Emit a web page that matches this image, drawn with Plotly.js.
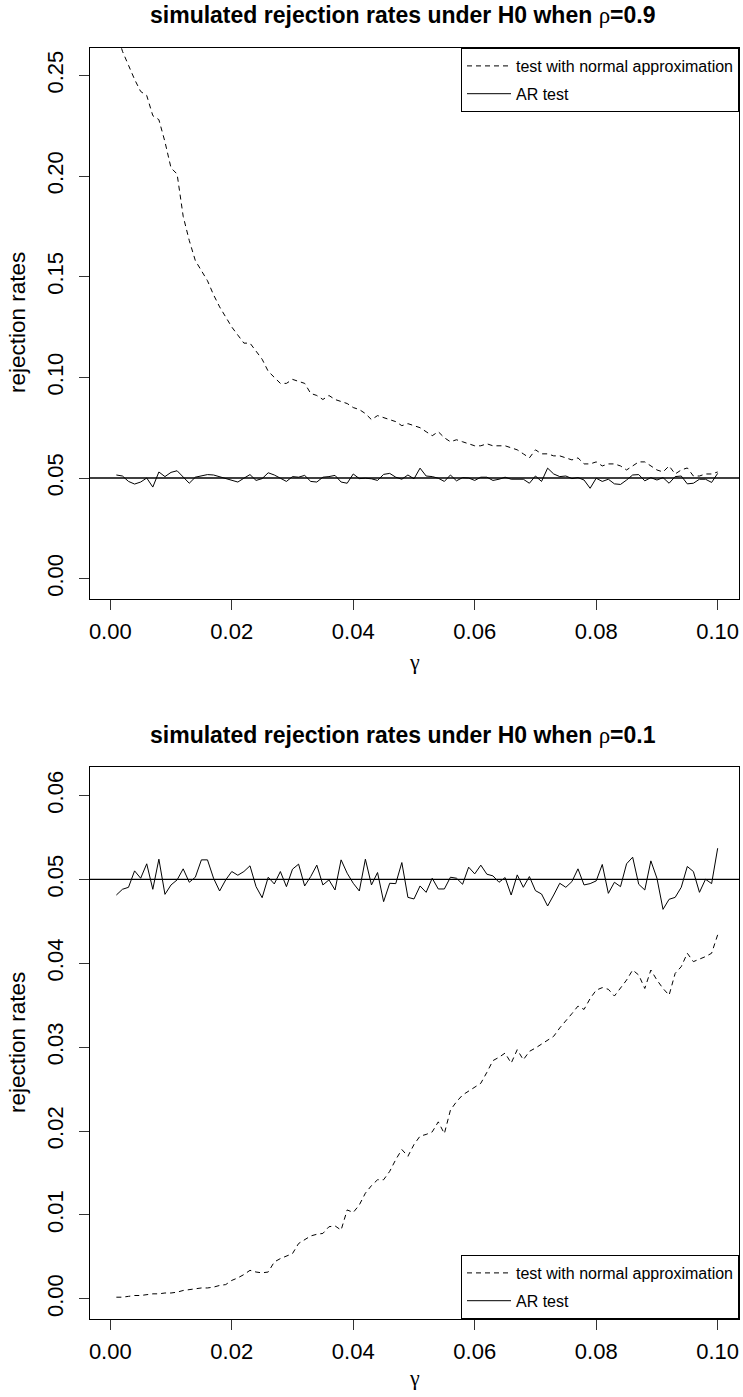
<!DOCTYPE html>
<html>
<head>
<meta charset="utf-8">
<script src="https://cdn.plot.ly/plotly-3.0.1.min.js"></script>
<style>html,body{margin:0;padding:0;background:#fff;}#chart{width:743px;height:1397px;}</style>
</head>
<body>
<div id="chart"></div>
<script>
// gamma grid
const gamma = [0.001,0.002,0.003,0.004,0.005,0.006,0.007,0.008,0.009,0.010,
0.011,0.012,0.013,0.014,0.015,0.016,0.017,0.018,0.019,0.020,
0.021,0.022,0.023,0.024,0.025,0.026,0.027,0.028,0.029,0.030,
0.031,0.032,0.033,0.034,0.035,0.036,0.037,0.038,0.039,0.040,
0.041,0.042,0.043,0.044,0.045,0.046,0.047,0.048,0.049,0.050,
0.051,0.052,0.053,0.054,0.055,0.056,0.057,0.058,0.059,0.060,
0.061,0.062,0.063,0.064,0.065,0.066,0.067,0.068,0.069,0.070,
0.071,0.072,0.073,0.074,0.075,0.076,0.077,0.078,0.079,0.080,
0.081,0.082,0.083,0.084,0.085,0.086,0.087,0.088,0.089,0.090,
0.091,0.092,0.093,0.094,0.095,0.096,0.097,0.098,0.099,0.100];

// rho = 0.9, test with normal approximation
const normalRho09 = [0.272,0.262,0.255,0.248,0.242,0.240,0.230,0.228,0.217,0.204,
0.201,0.180,0.168,0.158,0.153,0.148,0.141,0.135,0.130,0.125,
0.121,0.117,0.117,0.113,0.109,0.103,0.100,0.097,0.097,0.099,
0.098,0.097,0.092,0.091,0.089,0.091,0.089,0.088,0.087,0.085,
0.084,0.082,0.079,0.081,0.080,0.079,0.078,0.076,0.077,0.076,
0.075,0.073,0.071,0.073,0.070,0.068,0.069,0.068,0.067,0.066,
0.066,0.067,0.066,0.066,0.066,0.065,0.064,0.062,0.060,0.064,
0.062,0.062,0.061,0.061,0.060,0.059,0.060,0.057,0.057,0.058,
0.056,0.057,0.057,0.056,0.054,0.056,0.058,0.058,0.056,0.054,
0.053,0.056,0.052,0.054,0.055,0.051,0.051,0.052,0.052,0.053];

// rho = 0.9, AR test
const arRho09 = [0.0515,0.0510,0.0483,0.0470,0.0480,0.0500,0.0455,0.0530,0.0507,0.0528,
0.0536,0.0507,0.0474,0.0504,0.0512,0.0517,0.0515,0.0507,0.0497,0.0490,
0.0480,0.0499,0.0517,0.0488,0.0497,0.0526,0.0515,0.0499,0.0483,0.0507,
0.0504,0.0513,0.0483,0.0480,0.0504,0.0507,0.0513,0.0480,0.0474,0.0520,
0.0497,0.0499,0.0496,0.0488,0.0518,0.0523,0.0504,0.0494,0.0515,0.0496,
0.0549,0.0510,0.0507,0.0499,0.0483,0.0515,0.0486,0.0502,0.0500,0.0488,
0.0504,0.0504,0.0488,0.0494,0.0504,0.0494,0.0494,0.0494,0.0474,0.0510,
0.0483,0.0549,0.0520,0.0507,0.0510,0.0497,0.0502,0.0490,0.0449,0.0499,
0.0483,0.0494,0.0471,0.0468,0.0490,0.0515,0.0517,0.0486,0.0502,0.0490,
0.0502,0.0474,0.0507,0.0510,0.0471,0.0474,0.0494,0.0494,0.0478,0.0523];

// rho = 0.1, test with normal approximation
const normalRho01 = [0.0002,0.0002,0.0003,0.0004,0.0004,0.0005,0.0006,0.0006,0.0007,0.0007,
0.0008,0.0010,0.0011,0.0012,0.0013,0.0013,0.0014,0.0016,0.0017,0.0022,
0.0025,0.0029,0.0034,0.0032,0.0031,0.0032,0.0044,0.0048,0.0051,0.0054,
0.0066,0.0070,0.0075,0.0077,0.0078,0.0086,0.0087,0.0082,0.0106,0.0103,
0.0112,0.0126,0.0135,0.0142,0.0142,0.0152,0.0166,0.0178,0.0170,0.0184,
0.0194,0.0196,0.0199,0.0211,0.0197,0.0225,0.0235,0.0243,0.0248,0.0252,
0.0257,0.0270,0.0284,0.0288,0.0293,0.0281,0.0297,0.0285,0.0295,0.0299,
0.0304,0.0308,0.0313,0.0323,0.0331,0.0340,0.0349,0.0345,0.0358,0.0368,
0.0371,0.0369,0.0361,0.0371,0.0380,0.0392,0.0386,0.0370,0.0392,0.0380,
0.0370,0.0362,0.0388,0.0396,0.0412,0.0402,0.0405,0.0408,0.0412,0.0434];

// rho = 0.1, AR test
const arRho01 = [0.04814,0.04882,0.04906,0.05102,0.05014,0.05186,0.04882,0.05241,0.04822,0.04934,
0.04994,0.05126,0.04966,0.05026,0.05233,0.05233,0.05014,0.04862,0.04994,0.05094,
0.05050,0.05094,0.05162,0.04914,0.04782,0.05026,0.04946,0.05094,0.04914,0.05122,
0.05182,0.04922,0.05034,0.05170,0.04934,0.04994,0.04874,0.05233,0.05074,0.04954,
0.04862,0.05241,0.04934,0.05082,0.04735,0.04954,0.04950,0.05201,0.04786,0.04767,
0.04922,0.04846,0.05014,0.04886,0.04886,0.05026,0.05014,0.04942,0.05146,0.05066,
0.05170,0.05062,0.05042,0.04966,0.05022,0.04814,0.05054,0.04906,0.05034,0.04866,
0.04826,0.04683,0.04814,0.04954,0.04906,0.04974,0.05126,0.04934,0.04950,0.04982,
0.05178,0.04834,0.04966,0.04914,0.05186,0.05265,0.04942,0.04874,0.05221,0.05014,
0.04643,0.04763,0.04786,0.04906,0.05154,0.05094,0.04846,0.05002,0.04950,0.05372];

const xTicks = [0, 0.02, 0.04, 0.06, 0.08, 0.10];
const yTicksTop = [0, 0.05, 0.10, 0.15, 0.20, 0.25];
const yTicksBottom = [0, 0.01, 0.02, 0.03, 0.04, 0.05, 0.06];
const nominalLevel = 0.05;
const seriesNames = ['test with normal approximation', 'AR test'];
const titles = ['simulated rejection rates under H0 when ', 'ρ', '=0.9', '=0.1'];

const W = 743, H = 1397;
const px = v => v / W;
const py = v => 1 - v / H;
const FONT = 'Liberation Sans, Arial, Helvetica, sans-serif';
const TICK_SIZE = 22;

function axisBase(extra) {
  return Object.assign({
    showline: true, mirror: true, linecolor: '#000', linewidth: 1,
    ticks: 'outside', ticklen: 10, tickwidth: 1, tickcolor: '#333',
    showgrid: false, zeroline: false, fixedrange: true,
    tickfont: {family: FONT, size: TICK_SIZE, color: '#000'}
  }, extra);
}

const dashStyle = '5px,4px';

const traces = [
  {x: gamma, y: normalRho09, xaxis: 'x', yaxis: 'y', mode: 'lines', name: seriesNames[0],
   line: {color: '#000', width: 1, dash: dashStyle}, legend: 'legend', legendgroup: 'a1'},
  {x: gamma, y: arRho09, xaxis: 'x', yaxis: 'y', mode: 'lines', name: seriesNames[1],
   line: {color: '#000', width: 1}, legend: 'legend', legendgroup: 'b1'},
  {x: gamma, y: normalRho01, xaxis: 'x2', yaxis: 'y2', mode: 'lines', name: seriesNames[0],
   line: {color: '#000', width: 1, dash: dashStyle}, legend: 'legend2', legendgroup: 'a2'},
  {x: gamma, y: arRho01, xaxis: 'x2', yaxis: 'y2', mode: 'lines', name: seriesNames[1],
   line: {color: '#000', width: 1}, legend: 'legend2', legendgroup: 'b2'}
];

const xDom = [px(89.7), px(739)];
const xRange = [-0.00339, 0.10351];

// panel boxes (pixel rows)
const topBox = [48, 599];
const botBox = [767, 1319];

const legendBase = {
  xref: 'paper', yref: 'paper', x: px(739), xanchor: 'right',
  bordercolor: '#000', borderwidth: 1, bgcolor: '#fff',
  font: {family: FONT, size: 16, color: '#000'},
  tracegroupgap: 4, itemwidth: 44
};

const layout = {
  width: W, height: H,
  margin: {l: 0, r: 0, t: 0, b: 0},
  paper_bgcolor: '#fff', plot_bgcolor: '#fff',
  showlegend: true,
  xaxis: axisBase({domain: xDom, range: xRange, anchor: 'y', tickvals: xTicks, tickformat: '.2f', ticklabelstandoff: 3}),
  yaxis: axisBase({domain: [py(topBox[1]), py(topBox[0])], range: [-0.0101, 0.2636], anchor: 'x',
    tickvals: yTicksTop, tickformat: '.2f', tickangle: -90, ticklabelstandoff: 7}),
  xaxis2: axisBase({domain: xDom, range: xRange, anchor: 'y2', tickvals: xTicks, tickformat: '.2f', ticklabelstandoff: 3}),
  yaxis2: axisBase({domain: [py(botBox[1]), py(botBox[0])], range: [-0.0024, 0.0634], anchor: 'x2',
    tickvals: yTicksBottom, tickformat: '.2f', tickangle: -90, ticklabelstandoff: 7}),
  legend: Object.assign({}, legendBase, {y: py(topBox[0]), yanchor: 'top'}),
  legend2: Object.assign({}, legendBase, {y: py(botBox[1]), yanchor: 'bottom'}),
  shapes: [
    {type: 'line', xref: 'x domain', yref: 'y', x0: 0, x1: 1, y0: nominalLevel, y1: nominalLevel,
     line: {color: '#000', width: 1.3}},
    {type: 'line', xref: 'x2 domain', yref: 'y2', x0: 0, x1: 1, y0: nominalLevel, y1: nominalLevel,
     line: {color: '#000', width: 1.3}}
  ],
  annotations: [
    {xref: 'paper', yref: 'paper', x: px(403), y: py(15), xanchor: 'center', yanchor: 'middle', showarrow: false,
     text: '<b>' + titles[0] + '</b><span style="font-family:Liberation Serif">' + titles[1] + '</span><b>' + titles[2] + '</b>',
     font: {family: FONT, size: 23, color: '#000'}},
    {xref: 'paper', yref: 'paper', x: px(403), y: py(735), xanchor: 'center', yanchor: 'middle', showarrow: false,
     text: '<b>' + titles[0] + '</b><span style="font-family:Liberation Serif">' + titles[1] + '</span><b>' + titles[3] + '</b>',
     font: {family: FONT, size: 23, color: '#000'}},
    {xref: 'paper', yref: 'paper', x: px(414), y: py(661), xanchor: 'center', yanchor: 'middle', showarrow: false,
     text: 'γ', font: {family: 'Liberation Serif, serif', size: 22, color: '#000'}},
    {xref: 'paper', yref: 'paper', x: px(414), y: py(1377), xanchor: 'center', yanchor: 'middle', showarrow: false,
     text: 'γ', font: {family: 'Liberation Serif, serif', size: 22, color: '#000'}},
    {xref: 'paper', yref: 'paper', x: px(17), y: py(323), xanchor: 'center', yanchor: 'middle', showarrow: false,
     text: 'rejection rates', textangle: -90, font: {family: FONT, size: 22.5, color: '#000'}},
    {xref: 'paper', yref: 'paper', x: px(17), y: py(1043), xanchor: 'center', yanchor: 'middle', showarrow: false,
     text: 'rejection rates', textangle: -90, font: {family: FONT, size: 22.5, color: '#000'}}
  ]
};

Plotly.newPlot('chart', traces, layout, {displayModeBar: false, staticPlot: true});
</script>
</body>
</html>
